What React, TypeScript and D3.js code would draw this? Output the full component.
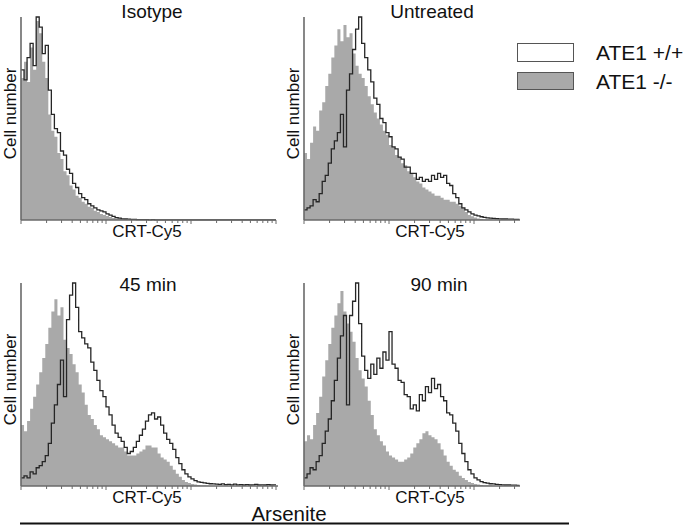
import React from "react";
import * as d3 from "d3";

// Histogram bins: 28 bins per decade on a log CRT-Cy5 axis; values are % of panel max height
const BINS_PER_DECADE = 28;

const isotypeWT = [74, 69, 80, 87, 76, 100, 95, 82, 86, 64, 52, 45, 43, 34, 32, 25, 23, 18, 16, 13, 11, 10, 8, 7, 6, 5, 4.5, 4, 3, 2.4, 1.8, 1.2, 0.9, 0.6, 0.5, 0.4, 0.3, 0.3, 0.2, 0.2, 0.2, 0.2, 0.1, 0.2, 0.1, 0.1, 0.1, 0.1, 0.1, 0.1, 0.1, 0.1, 0.1, 0.1, 0.1, 0.1, 0.1, 0.1, 0.1, 0.1, 0.1, 0.1, 0.1, 0.1, 0.1, 0.1, 0.1, 0.1, 0.1, 0.1, 0.1, 0.1, 0.1, 0.1, 0.1, 0.1, 0.1, 0.1, 0.1, 0.1, 0.1, 0.1, 0.1, 0.1];
const isotypeKO = [70, 78, 68, 85, 74, 98, 92, 78, 70, 52, 44, 41, 33, 30, 24, 22, 17, 15, 12, 11, 9, 8, 6.5, 6, 4.5, 4, 3, 2.5, 2, 1.5, 1, 0.8, 0.5, 0.3, 0.2, 0, 0, 0, 0, 0, 0, 0, 0, 0, 0, 0, 0, 0, 0, 0, 0, 0, 0, 0, 0, 0, 0, 0, 0, 0, 0, 0, 0, 0, 0, 0, 0, 0, 0, 0, 0, 0, 0, 0, 0, 0, 0, 0, 0, 0, 0, 0, 0, 0];

const untreatedWT = [5, 6, 7, 10, 9, 13, 19, 22, 28, 35, 39, 43, 52, 36, 64, 72, 84, 94, 100, 87, 80, 74, 68, 60, 57, 50, 48, 43, 41, 36, 35, 31, 30, 26, 26, 23, 23, 20, 21, 19, 20, 19, 22, 20, 23, 21, 22, 18, 17, 13, 11, 8, 6, 5, 4, 3, 2.4, 2, 1.6, 1.3, 1, 0.9, 0.8, 0.7, 0.6, 0.5, 0.5, 0.4, 0.4, 0.3, 0.3];
const untreatedKO = [33, 30, 38, 46, 44, 54, 58, 66, 72, 80, 86, 94, 88, 96, 90, 92, 82, 76, 72, 70, 66, 61, 57, 53, 50, 47, 44, 42, 37, 36, 32, 31, 28, 27, 24, 23, 21, 19, 18, 16, 15, 14, 13, 12, 12, 11, 10, 10, 9, 9, 8, 7, 6, 4, 2.5, 1.8, 1.2, 0.8, 0.5, 0.3, 0.2, 0.2, 0.1, 0.1, 0, 0, 0, 0, 0, 0, 0];

const min45WT = [4, 5, 4, 7, 6, 9, 10, 12, 15, 21, 31, 40, 50, 62, 44, 82, 94, 100, 88, 76, 73, 70, 68, 61, 57, 52, 47, 44, 39, 35, 30, 26, 24, 22, 19, 16, 17, 19, 22, 25, 28, 32, 35, 36, 33, 34, 30, 26, 23, 21, 18, 14, 11, 8, 6, 4.5, 3.5, 2.6, 2, 1.8, 1.5, 1.3, 1.1, 1, 0.9, 0.8, 1, 0.7, 0.8, 0.6, 0.9, 0.6, 0.7, 0.5, 0.7, 0.5, 0.6, 0.8, 0.5, 0.6, 0.5, 0.7, 0.5, 0.6];
const min45KO = [30, 27, 32, 38, 44, 50, 56, 63, 70, 78, 86, 92, 84, 88, 72, 68, 65, 60, 56, 50, 46, 40, 35, 33, 30, 28, 25, 24, 23, 22, 21, 20, 19, 19, 17, 15, 15, 15, 16, 17, 18, 20, 20, 19, 19, 16, 14, 13, 12, 10, 8, 6, 4.5, 3, 2, 1.5, 1, 0.8, 0.5, 0.3, 0.2, 0.1, 0, 0, 0, 0, 0, 0, 0, 0, 0, 0, 0, 0, 0, 0, 0, 0, 0, 0, 0, 0, 0, 0];

const min90WT = [4, 6, 9, 8, 12, 15, 21, 27, 33, 42, 52, 63, 74, 84, 40, 84, 91, 100, 80, 64, 57, 53, 60, 55, 63, 58, 66, 62, 76, 60, 58, 52, 51, 45, 44, 38, 40, 37, 45, 42, 49, 46, 53, 48, 50, 44, 42, 36, 35, 31, 27, 21, 16, 12, 8, 6, 4, 3, 2.2, 1.7, 1.4, 1.1, 1, 0.8, 0.7, 0.6, 0.5, 0.5, 0.4, 0.4, 0.3];
const min90KO = [22, 25, 23, 30, 36, 44, 54, 62, 70, 78, 84, 90, 96, 86, 80, 76, 71, 63, 57, 53, 49, 42, 35, 28, 25, 22, 20, 17, 15, 14, 13, 12, 12, 13, 14, 16, 19, 21, 23, 26, 27, 25, 24, 23, 21, 18, 15, 12, 10, 8, 7, 5, 4, 3, 2, 1.5, 1, 0.8, 0.5, 0.3, 0.3, 0.2, 0.1, 0, 0, 0, 0, 0, 0, 0, 0];

const panelTitles = ["Isotype", "Untreated", "45 min", "90 min"];
const legendLabels = ["ATE1 +/+", "ATE1 -/-"];
const xAxisLabel = "CRT-Cy5";
const yAxisLabel = "Cell number";
const groupLabel = "Arsenite";

const FONT = "'Liberation Sans', Arial, Helvetica, sans-serif";
const GRAY = "#a9a9a9";
const AXIS = "#6a6a6a";

type PanelSpec = {
  title: string;
  wt: number[];
  ko: number[];
  x0: number;
  top: number;
  base: number;
  width: number;
  titleX: number;
  titleY: number;
};

function Panel({ p }: { p: PanelSpec }) {
  const decadePx = 255 / 3;
  const x = d3.scaleLog().domain([1, 1000]).range([p.x0, p.x0 + decadePx * 3]);
  const y = d3.scaleLinear().domain([0, 100]).range([p.base, p.top]);
  const edge = (i: number) => x(Math.pow(10, i / BINS_PER_DECADE));
  const toPts = (arr: number[]) => {
    const pts: [number, number][] = arr.map((v, i) => [edge(i), v]);
    pts.push([edge(arr.length), arr[arr.length - 1]]);
    return pts;
  };
  const area = d3
    .area<[number, number]>()
    .x((d) => d[0])
    .y0(p.base)
    .y1((d) => y(d[1]))
    .curve(d3.curveStepAfter);
  const line = d3
    .line<[number, number]>()
    .x((d) => d[0])
    .y((d) => y(d[1]))
    .curve(d3.curveStepAfter);
  const xEnd = p.x0 + p.width;
  const ticks: { v: number; major: boolean }[] = [];
  for (let d = 0; d < 3; d++) {
    for (let k = 1; k <= 9; k++) ticks.push({ v: k * Math.pow(10, d), major: k === 1 });
  }
  ticks.push({ v: 1000, major: true });
  const visTicks = ticks.filter((t) => x(t.v) <= xEnd + 0.5);
  const midY = (p.top + p.base) / 2;
  return (
    <g>
      <path d={area(toPts(p.ko)) || ""} fill={GRAY} stroke="none" />
      <path d={line(toPts(p.wt)) || ""} fill="none" stroke="#262626" strokeWidth={1.3} />
      <line x1={p.x0} x2={p.x0} y1={p.top} y2={p.base} stroke={AXIS} strokeWidth={1.6} />
      <line x1={p.x0} x2={xEnd} y1={p.base} y2={p.base} stroke={AXIS} strokeWidth={1.4} />
      {visTicks.map((t, i) => (
        <line
          key={i}
          x1={x(t.v)}
          x2={x(t.v)}
          y1={p.base}
          y2={p.base + (t.major ? 4 : 3)}
          stroke={AXIS}
          strokeWidth={1}
        />
      ))}
      <text x={p.titleX} y={p.titleY} textAnchor="middle" fontFamily={FONT} fontSize={19} fill="#111">
        {p.title}
      </text>
      <text x={p.x0 + 126} y={p.base + 17} textAnchor="middle" fontFamily={FONT} fontSize={17} fill="#111">
        {xAxisLabel}
      </text>
      <text
        transform={`translate(${p.x0 - 5},${midY - 5}) rotate(-90)`}
        textAnchor="middle"
        fontFamily={FONT}
        fontSize={17}
        fill="#111"
      >
        {yAxisLabel}
      </text>
    </g>
  );
}

export default function App() {
  const panels: PanelSpec[] = [
    { title: panelTitles[0], wt: isotypeWT, ko: isotypeKO, x0: 21, top: 17, base: 220, width: 255, titleX: 152, titleY: 17.5 },
    { title: panelTitles[1], wt: untreatedWT, ko: untreatedKO, x0: 304, top: 17, base: 220, width: 216, titleX: 432, titleY: 17.5 },
    { title: panelTitles[2], wt: min45WT, ko: min45KO, x0: 21, top: 283, base: 486, width: 257, titleX: 148, titleY: 291 },
    { title: panelTitles[3], wt: min90WT, ko: min90KO, x0: 304, top: 283, base: 486, width: 216, titleX: 439, titleY: 291 },
  ];
  return (
    <svg
      width={693}
      height={525}
      viewBox="0 0 693 525"
      style={{ position: "absolute", left: 0, top: 0, background: "#fff" }}
    >
      <rect x={0} y={0} width={693} height={525} fill="#fff" />
      {panels.map((p, i) => (
        <Panel key={i} p={p} />
      ))}
      <rect x={517.5} y={43.5} width={56} height={18} fill="#fff" stroke="#555" strokeWidth={1} />
      <rect x={517.5} y={72.5} width={56} height={17} fill={GRAY} stroke="#555" strokeWidth={1} />
      <text x={596} y={59.5} fontFamily={FONT} fontSize={21} fill="#111">
        {legendLabels[0]}
      </text>
      <text x={596} y={89} fontFamily={FONT} fontSize={21} fill="#111">
        {legendLabels[1]}
      </text>
      <text x={289} y={521} textAnchor="middle" fontFamily={FONT} fontSize={20.5} fill="#111">
        {groupLabel}
      </text>
      <line x1={20} x2={569} y1={523.5} y2={523.5} stroke="#111" strokeWidth={2} />
    </svg>
  );
}
